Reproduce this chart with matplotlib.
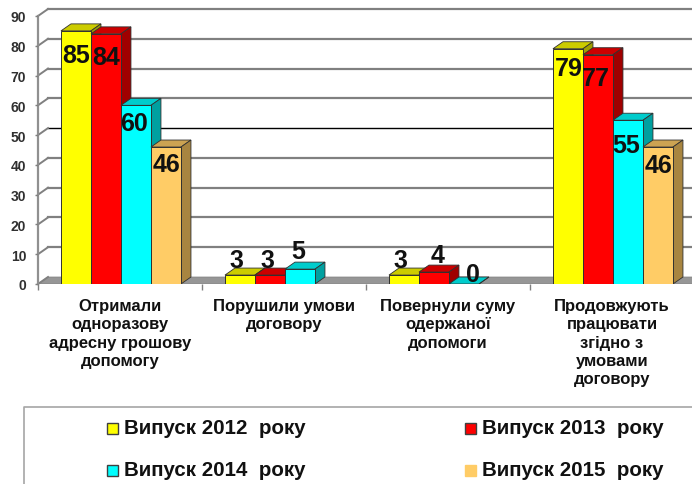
import matplotlib
matplotlib.use("Agg")
import matplotlib.pyplot as plt
from matplotlib.patches import Polygon, Rectangle
from matplotlib.lines import Line2D

plt.rcParams['font.family'] = ['Liberation Sans', 'DejaVu Sans']
plt.rcParams['font.weight'] = 'bold'

categories = ["Отримали\nодноразову\nадресну грошову\nдопомогу",
              "Порушили умови\nдоговору",
              "Повернули суму\nодержаної\nдопомоги",
              "Продовжують\nпрацювати\nзгідно з\nумовами\nдоговору"]
series_names = ["Випуск 2012  року", "Випуск 2013  року", "Випуск 2014  року", "Випуск 2015  року"]
v2012 = [85, 3, 3, 79]
v2013 = [84, 3, 4, 77]
v2014 = [60, 5, 0, 55]
v2015 = [46, 0, 0, 46]
yticks = [0, 10, 20, 30, 40, 50, 60, 70, 80, 90]

# front, top, side
colors = [("#ffff00", "#cccc00", "#a0a000"),
          ("#ff0000", "#cc0000", "#a00000"),
          ("#00ffff", "#00cccc", "#00a0a0"),
          ("#ffcc66", "#cca352", "#a88540")]

# label nudges in pixels (x, y below bar top), read per bar, None = no label
label_off = [[(0, 24), (0, 23), (-2, 18), (1, 17)],
             [(-4, -15), (-3, -15), (-2, -18), None],
             [(-4, -15), (4, -17), (9, -10), None],
             [(1, 19), (-2, 23), (-2, 25), (1, 18)]]

W, H = 692, 485
fig = plt.figure(figsize=(W / 100, H / 100), dpi=100)
ax = fig.add_axes([38 / W, 1 - 285 / H, 656 / W, 268 / H])
ax.set_xlim(0, 4)
ax.set_ylim(0, 90)

DX = 10 / 164
DY = 7 * 90 / 268
BW = 30 / 164
START = 0.14
RIGHT = 4.2

# floor
ax.add_patch(Polygon([(0, 0), (DX, DY), (RIGHT, DY), (RIGHT, 0)], fc="#969696", ec="#808080", lw=0.5,
                     zorder=1, clip_on=True))
# walls
for v in yticks:
    c = "black" if v == 50 else "#808080"
    lw = 1.0 if v == 50 else 1.6
    if v > 0:
        ax.plot([DX, RIGHT], [v + DY, v + DY], color=c, lw=lw, zorder=1, clip_on=False)
    ax.plot([0, DX], [v, v + DY], color="#808080", lw=1.4, zorder=1, clip_on=False)
ax.plot([0, 0], [0, 90], color="#909090", lw=1.6, zorder=1, clip_on=False)

all_series = [v2012, v2013, v2014, v2015]
for i in range(4):
    for s in range(4):
        v = all_series[s][i]
        if label_off[i][s] is None:
            continue
        x = i + START + s * BW
        front, top, side = colors[s]
        z = 2 + s
        ax.add_patch(Polygon([(x, v), (x + DX, v + DY), (x + BW + DX, v + DY), (x + BW, v)],
                             fc=top, ec="#303030", lw=0.6, zorder=z))
        ax.add_patch(Polygon([(x + BW, 0), (x + BW + DX, DY), (x + BW + DX, v + DY), (x + BW, v)],
                             fc=side, ec="#303030", lw=0.6, zorder=z))
        if v > 0:
            ax.add_patch(Rectangle((x, 0), BW, v, fc=front, ec="#303030", lw=0.7, zorder=z))
        ox, oy = label_off[i][s]
        ax.annotate(str(v), (x + BW / 2, v), xytext=(ox * 0.72, -oy * 0.72), textcoords="offset points",
                    ha="center", va="center", fontsize=18, color="#111111", zorder=10)

for sp in ax.spines.values():
    sp.set_visible(False)
ax.patch.set_visible(False)
ax.set_yticks(yticks)
ax.tick_params(axis="y", length=2.5, color="#808080", width=1, pad=6, labelsize=10, labelcolor="#303030")
ax.set_xticks(range(5))
ax.set_xticklabels([])
ax.set_xticks([0.5, 1.5, 2.5, 3.5], categories, minor=True, linespacing=1.28)
ax.tick_params(axis="x", which="major", length=4, color="#808080", width=1)
ax.tick_params(axis="x", which="minor", length=0, pad=10, labelsize=12, labelcolor="#111111")

# legend box, cut by the picture edge
fig.add_artist(Line2D([24 / W, 24 / W, 1], [0, 1 - 408 / H, 1 - 408 / H], color="#a6a6a6", lw=1.2))
leg_x = [107, 465, 107, 465]
leg_y = [429, 429, 471, 471]
for s in range(4):
    fig.add_artist(Rectangle(((leg_x[s]) / W, 1 - (leg_y[s] + 5.5) / H), 11 / W, 11 / H,
                             fc=colors[s][0], ec="#404040" if s < 3 else colors[s][0], lw=1,
                             transform=fig.transFigure))
    fig.text((leg_x[s] + 17) / W, 1 - leg_y[s] / H, series_names[s], fontsize=14.8, va="center",
             ha="left", color="#111111")

fig.savefig("out.png", dpi=100)
